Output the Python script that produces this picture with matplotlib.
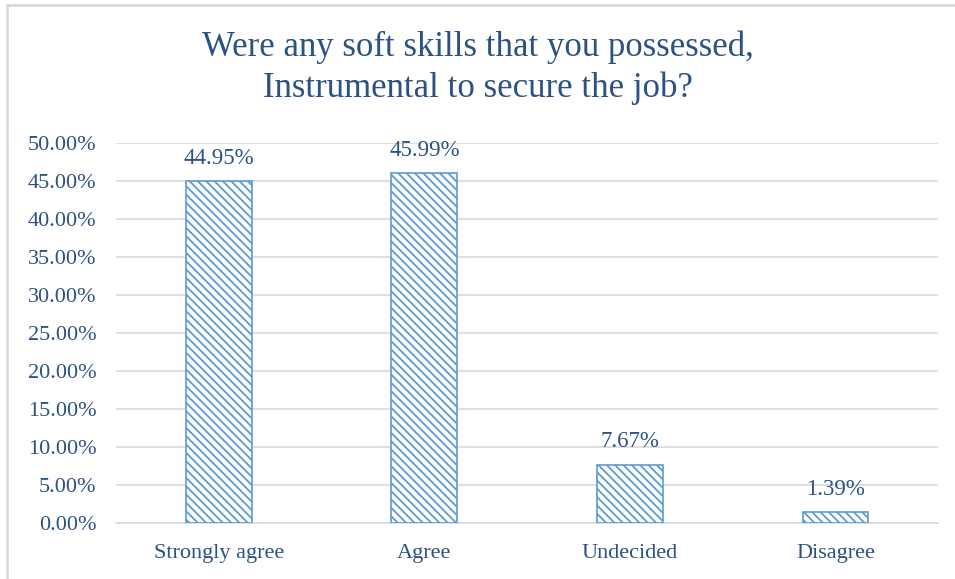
import matplotlib
matplotlib.use("Agg")
import matplotlib.pyplot as plt
from matplotlib.patches import Rectangle
from matplotlib.ticker import FuncFormatter, MultipleLocator

categories = ["Strongly agree", "Agree", "Undecided", "Disagree"]
values = [44.95, 45.99, 7.67, 1.39]
title = "Were any soft skills that you possessed,\nInstrumental to secure the job?"

text_color = "#2C5282"
bar_color = "#5B9BD5"
grid_color = "#D9D9D9"

plt.rcParams["font.family"] = ["Liberation Serif", "DejaVu Serif"]
plt.rcParams["hatch.linewidth"] = 1.3
plt.rcParams["hatch.color"] = bar_color

fig = plt.figure(figsize=(9.55, 5.79), dpi=100)
ax = fig.add_axes([0.1215, 0.0967, 0.861, 0.6563])

x = range(len(categories))
bars = ax.bar(x, values, width=0.32, facecolor="white", edgecolor=bar_color,
              linewidth=1.2, hatch=r"\\\\", zorder=3)

for b, v in zip(bars, values):
    ax.annotate(f"{v:.2f}%", (b.get_x() + b.get_width() / 2, b.get_height()),
                xytext=(0, 9), textcoords="offset points", ha="center", va="bottom",
                fontsize=16.5, color=text_color)

ax.set_xlim(-0.5, len(categories) - 0.5)
ax.set_ylim(0, 50)
ax.yaxis.set_major_locator(MultipleLocator(5))
ax.yaxis.set_major_formatter(FuncFormatter(lambda v, p: f"{v:.2f}%"))
ax.set_xticks(list(x))
ax.set_xticklabels(categories)
ax.tick_params(axis="both", length=0, labelsize=16, labelcolor=text_color)
ax.tick_params(axis="x", pad=15)
ax.tick_params(axis="y", pad=14)
ax.grid(axis="y", color=grid_color, linewidth=1.2, zorder=0)
for s in ["top", "right", "left"]:
    ax.spines[s].set_visible(False)
ax.spines["bottom"].set_color(grid_color)
ax.spines["bottom"].set_linewidth(1.2)

fig.text(0.5, 0.883, title, ha="center", va="center", fontsize=25,
         color=text_color, linespacing=1.3)

fig.add_artist(Rectangle((7 / 955, -0.05), 1.1, 1 - 5 / 579 + 0.05,
                         transform=fig.transFigure, fill=False,
                         edgecolor=grid_color, linewidth=2))

fig.savefig("out.png", dpi=100, facecolor="white")
